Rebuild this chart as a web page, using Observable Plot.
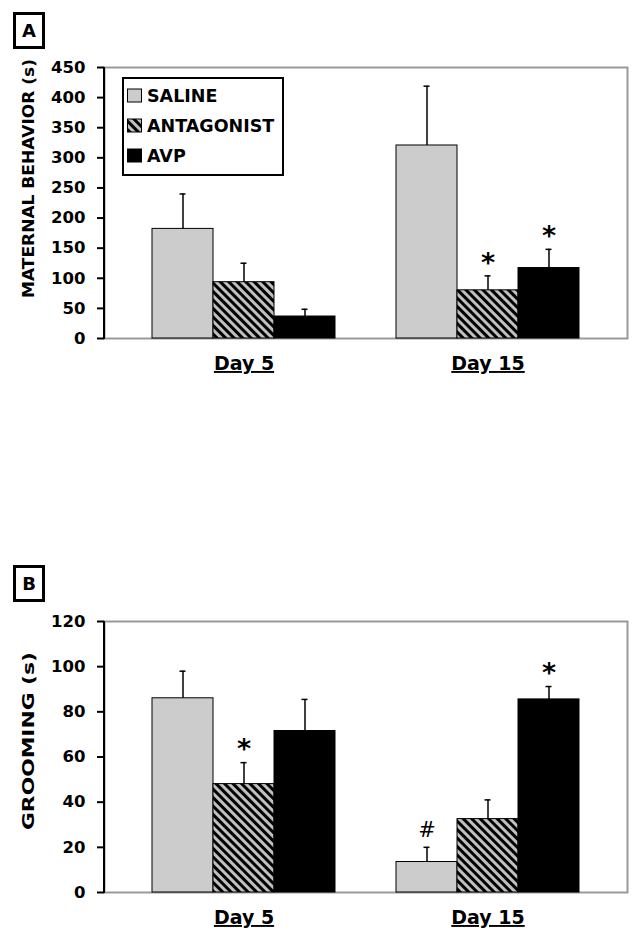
<!DOCTYPE html>
<html><head><meta charset="utf-8">
<script src="https://cdn.jsdelivr.net/npm/d3@7"></script>
<script src="https://cdn.jsdelivr.net/npm/@observablehq/plot@0.6"></script>
<style>
html,body{margin:0;padding:0;background:#fff;}
body{width:635px;height:939px;position:relative;overflow:hidden;font-family:"DejaVu Sans",sans-serif;}
.panel{position:absolute;left:0;}
.tag{position:absolute;left:13px;width:26px;height:31px;border:3px solid #000;font:bold 18px "DejaVu Sans";display:flex;align-items:center;justify-content:center;color:#000;}
</style></head><body>
<svg width="0" height="0" style="position:absolute"><defs>
<pattern id="hatch" patternUnits="userSpaceOnUse" width="6" height="6" patternTransform="rotate(-45)">
<rect width="6" height="6" fill="#000"/><rect width="3" height="6" fill="#c0c0c0"/></pattern>
</defs></svg>
<div class="tag" style="top:12px">A</div>
<div class="tag" style="top:565px">B</div>
<div id="a" class="panel" style="top:0"></div>
<div id="b" class="panel" style="top:540px"></div>
<script>
const days = ["Day 5", "Day 15"];
const groups = ["SALINE", "ANTAGONIST", "AVP"];
const groupFills = ["#cccccc", "url(#hatch)", "#000000"];

const maternalMean = [182, 93.5, 36.5, 320.5, 80, 117];
const maternalSEM = [58, 31.5, 12, 98.5, 24, 31];
const maternalSig = ["", "", "", "", "*", "*"];
const maternalTicks = [0, 50, 100, 150, 200, 250, 300, 350, 400, 450];

const groomingMean = [86, 48, 71.5, 13.5, 32.5, 85.5];
const groomingSEM = [12, 9.5, 14, 6.5, 8.5, 5.7];
const groomingSig = ["", "*", "", "#", "", "*"];
const groomingTicks = [0, 20, 40, 60, 80, 100, 120];

const keyOf = (day, group) => day + "|" + group;
const xDomain = [...groups.map(g => keyOf(days[0], g)), "gap", ...groups.map(g => keyOf(days[1], g))];

function rows(mean, sem, sig) {
  return mean.map((m, i) => {
    const day = days[Math.floor(i / 3)], group = groups[i % 3];
    return {day, group, key: keyOf(day, group), mean: m, sem: sem[i], top: m + sem[i], sig: sig[i]};
  });
}

function panel({data, ticks, title, height, marginTop, marginBottom, titleLength, titleCenter, legend}) {
  const chart = Plot.plot({
    width: 635, height, marginLeft: 104, marginRight: 8, marginTop, marginBottom,
    style: {fontFamily: "DejaVu Sans", background: "transparent", color: "#000", overflow: "visible"},
    x: {domain: xDomain, paddingInner: 0, paddingOuter: 0.75, axis: null},
    y: {domain: [0, ticks[ticks.length - 1]]},
    color: {domain: groups, range: groupFills},
    marks: [
      Plot.frame({stroke: "#9a9a9a", strokeWidth: 2}),
      Plot.axisY({ticks, tickSize: 7, tickPadding: 12, fontSize: 16.5, fontWeight: "bold", strokeWidth: 2, label: null}),
      Plot.axisX({ticks: xDomain.filter(k => k.endsWith("|ANTAGONIST")), tickFormat: k => k.split("|")[0],
        tickSize: 0, tickPadding: 18, fontSize: 19, fontWeight: "bold", label: null}),
      Plot.barY(data, {x: "key", y: "mean", fill: "group", stroke: "#000", strokeWidth: 1}),
      Plot.ruleX(data, {x: "key", y1: "mean", y2: "top", stroke: "#000", strokeWidth: 1.5}),
      Plot.tickY(data, {x: "key", y: "top", stroke: "#000", strokeWidth: 1.5, insetLeft: 27.5, insetRight: 27.5}),
      Plot.text(data.filter(d => d.sig === "*"), {x: "key", y: "top", text: "sig", dy: -13, fontSize: 27, fontWeight: "bold", fill: "#000"}),
      Plot.text(data.filter(d => d.sig === "#"), {x: "key", y: "top", text: "sig", dy: -17, fontSize: 21, fontWeight: "normal", fill: "#000"})
    ]
  });
  const svg = d3.select(chart);
  const xr = chart.scale("x").range, yr = chart.scale("y").range;
  // black y-axis line
  svg.append("line").attr("x1", xr[0]).attr("x2", xr[0]).attr("y1", Math.min(...yr)).attr("y2", Math.max(...yr) + 1)
    .attr("stroke", "#000").attr("stroke-width", 2);
  // underline day labels
  svg.selectAll('g[aria-label="x-axis tick label"] text')
    .style("text-decoration", "underline").style("text-decoration-thickness", "2px");
  // y title
  svg.append("text").attr("transform", `translate(34,${titleCenter}) rotate(-90)`)
    .attr("text-anchor", "middle").attr("font-family", "DejaVu Sans").attr("font-weight", "bold")
    .attr("font-size", 16).attr("textLength", titleLength).attr("lengthAdjust", "spacingAndGlyphs")
    .attr("fill", "#000").text(title);
  if (legend) {
    const g = svg.append("g").attr("text-anchor", "start");
    g.append("rect").attr("x", 123).attr("y", 78).attr("width", 160).attr("height", 97)
      .attr("fill", "#fff").attr("stroke", "#000").attr("stroke-width", 2);
    groups.forEach((grp, i) => {
      const cy = 95.5 + i * 30;
      g.append("rect").attr("x", 127.5).attr("y", cy - 6.5).attr("width", 14).attr("height", 13)
        .attr("fill", groupFills[i]).attr("stroke", "#000").attr("stroke-width", 1);
      g.append("text").attr("x", 147).attr("y", cy).attr("dy", "0.36em").attr("text-anchor", "start")
        .attr("font-family", "DejaVu Sans").attr("font-weight", "bold").attr("font-size", 17.5)
        .attr("fill", "#000").text(grp);
    });
  }
  return chart;
}

document.getElementById("a").append(panel({
  data: rows(maternalMean, maternalSEM, maternalSig), ticks: maternalTicks,
  title: "MATERNAL BEHAVIOR (s)", height: 390, marginTop: 67, marginBottom: 52,
  titleLength: 239, titleCenter: 178.5, legend: true
}));
document.getElementById("b").append(panel({
  data: rows(groomingMean, groomingSEM, groomingSig), ticks: groomingTicks,
  title: "GROOMING (s)", height: 399, marginTop: 81, marginBottom: 47,
  titleLength: 178, titleCenter: 201, legend: false
}));
</script>
</body></html>
